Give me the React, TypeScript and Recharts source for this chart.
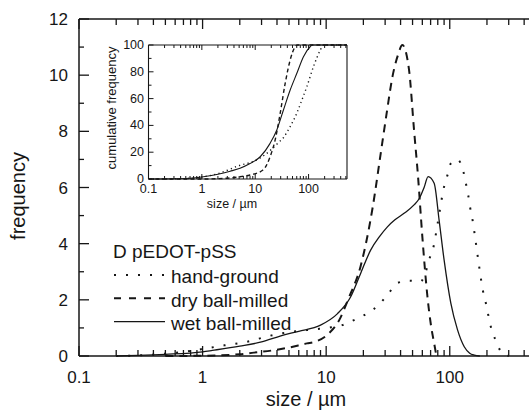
import { LineChart, Line, XAxis, YAxis } from 'recharts'

const FONT = '"Liberation Sans", Arial, Helvetica, sans-serif'
const INK = '#161616'

// particle size (µm) vs frequency
const handGround = [
  { x: 0.2, y: 0 }, { x: 0.4, y: 0.05 }, { x: 0.7, y: 0.15 }, { x: 1, y: 0.25 },
  { x: 1.5, y: 0.38 }, { x: 2.3, y: 0.51 }, { x: 3.5, y: 0.72 }, { x: 5, y: 0.85 },
  { x: 8, y: 0.95 }, { x: 11, y: 1.02 }, { x: 13.5, y: 1.1 }, { x: 16.8, y: 1.28 },
  { x: 21.5, y: 1.52 }, { x: 26.3, y: 1.8 }, { x: 31.6, y: 2.2 }, { x: 37.8, y: 2.6 },
  { x: 47, y: 2.68 }, { x: 58, y: 2.65 }, { x: 64, y: 3.0 }, { x: 68, y: 3.42 },
  { x: 74, y: 3.9 }, { x: 80, y: 4.75 }, { x: 90, y: 6.03 }, { x: 96, y: 6.45 },
  { x: 102, y: 6.86 }, { x: 115, y: 7.0 }, { x: 129, y: 6.56 }, { x: 135, y: 6.15 },
  { x: 141, y: 5.73 }, { x: 146, y: 5.3 }, { x: 153, y: 4.84 }, { x: 163, y: 4.0 },
  { x: 173, y: 3.18 }, { x: 185, y: 2.35 }, { x: 196, y: 1.88 }, { x: 215, y: 1.04 },
  { x: 233, y: 0.6 }, { x: 256, y: 0.2 }, { x: 280, y: 0.03 }, { x: 300, y: 0 },
]
const dryMilled = [
  { x: 0.5, y: 0 }, { x: 1, y: 0.01 }, { x: 2, y: 0.06 }, { x: 2.6, y: 0.12 },
  { x: 3.7, y: 0.2 }, { x: 5, y: 0.3 }, { x: 7, y: 0.45 }, { x: 8, y: 0.5 },
  { x: 10.5, y: 0.8 }, { x: 13, y: 1.35 }, { x: 15, y: 2.0 }, { x: 19, y: 3.2 },
  { x: 23.8, y: 5.3 }, { x: 27.6, y: 7.2 }, { x: 31, y: 8.7 }, { x: 34.4, y: 9.95 },
  { x: 38, y: 10.7 }, { x: 41.4, y: 11.07 }, { x: 46.8, y: 10.2 }, { x: 51.4, y: 8.05 },
  { x: 55.4, y: 6.38 }, { x: 60, y: 4.25 }, { x: 66, y: 2.11 }, { x: 71, y: 1.0 },
  { x: 74.8, y: 0.45 }, { x: 78, y: 0 },
]
const wetMilled = [
  { x: 0.2, y: 0 }, { x: 0.3, y: 0.02 }, { x: 0.5, y: 0.06 }, { x: 1, y: 0.15 },
  { x: 1.2, y: 0.2 }, { x: 2, y: 0.35 }, { x: 3, y: 0.5 }, { x: 4.3, y: 0.72 },
  { x: 6, y: 0.88 }, { x: 9, y: 1.1 }, { x: 12.3, y: 1.5 }, { x: 15.8, y: 2.11 },
  { x: 19, y: 2.94 }, { x: 22.9, y: 3.77 }, { x: 27, y: 4.25 }, { x: 31.3, y: 4.6 },
  { x: 36, y: 4.85 }, { x: 42.7, y: 5.08 }, { x: 51.4, y: 5.38 }, { x: 56.5, y: 5.6 },
  { x: 62, y: 6.0 }, { x: 66.8, y: 6.39 }, { x: 74.8, y: 6.15 }, { x: 82, y: 4.84 },
  { x: 90, y: 3.42 }, { x: 102, y: 1.88 }, { x: 115.6, y: 0.93 }, { x: 131, y: 0.33 },
  { x: 145, y: 0.1 }, { x: 158, y: 0.03 }, { x: 175, y: 0 },
]

// inset: cumulative frequency (%)
const handCum = [
  { x: 0.1, y: 0 }, { x: 0.5, y: 0.3 }, { x: 1, y: 1.5 }, { x: 2, y: 4 }, { x: 5, y: 10 },
  { x: 9, y: 13 }, { x: 14, y: 17 }, { x: 20, y: 22 }, { x: 27, y: 27 }, { x: 34, y: 31 },
  { x: 45, y: 39 }, { x: 60, y: 49 }, { x: 75, y: 59 }, { x: 93, y: 69 }, { x: 124, y: 84 },
  { x: 165, y: 96 }, { x: 190, y: 100 }, { x: 525, y: 100 },
]
const dryCum = [
  { x: 0.1, y: 0 }, { x: 1, y: 0 }, { x: 3, y: 0.6 }, { x: 5.2, y: 1.7 }, { x: 8, y: 3 },
  { x: 14, y: 6.7 }, { x: 19, y: 16.6 }, { x: 23.6, y: 29 }, { x: 29.3, y: 48.7 },
  { x: 36.3, y: 71 }, { x: 45.2, y: 88.8 }, { x: 56, y: 98.7 }, { x: 62, y: 100 }, { x: 525, y: 100 },
]
const wetCum = [
  { x: 0.1, y: 0 }, { x: 0.5, y: 0.4 }, { x: 1.07, y: 1.7 }, { x: 2, y: 3.5 }, { x: 3.4, y: 5.8 },
  { x: 5.2, y: 8 }, { x: 8, y: 11.5 }, { x: 12.4, y: 16.6 }, { x: 19, y: 26.6 },
  { x: 25.4, y: 36.6 }, { x: 33.8, y: 51.5 }, { x: 45.2, y: 66.4 }, { x: 60.3, y: 78.9 },
  { x: 80.2, y: 91.3 }, { x: 107, y: 98.7 }, { x: 118, y: 100 }, { x: 525, y: 100 },
]

const decades = [0.1, 1, 10, 100]
const freqTicks = [0, 1, 2, 3, 4, 5, 6, 7, 8, 9, 10, 11, 12]
const cumTicks = [0, 10, 20, 30, 40, 50, 60, 70, 80, 90, 100]

const series = [
  { name: 'hand-ground', main: handGround, cum: handCum, dash: '2 10', cumDash: '1.2 3.2', width: 2 },
  { name: 'dry ball-milled', main: dryMilled, cum: dryCum, dash: '8 6', cumDash: '4 3', width: 2 },
  { name: 'wet ball-milled', main: wetMilled, cum: wetCum, dash: undefined, cumDash: undefined, width: 1.3 },
]

const logTicks = (max: number) =>
  decades.flatMap((d) => [1, 2, 3, 4, 5, 6, 7, 8, 9].map((k) => d * k)).filter((v) => v <= max)

const isDecade = (v: number) => Math.abs(Math.log10(v) - Math.round(Math.log10(v))) < 1e-6

function xTick(dir: 1 | -1, major: number, minor: number, fontSize: number, offset: number, labels: boolean, sw: number) {
  return (props: any) => {
    const { x, y, payload } = props
    const v = payload.value
    const big = isDecade(v)
    return (
      <g>
        <line x1={x} x2={x} y1={y} y2={y - dir * (big ? major : minor)} stroke={INK} strokeWidth={sw} />
        {labels && big && (
          <text x={x} y={y + offset} textAnchor="middle" fontSize={fontSize} fill={INK} fontFamily={FONT}>
            {String(v)}
          </text>
        )}
      </g>
    )
  }
}

function yTick(dir: 1 | -1, step: number, major: number, minor: number, fontSize: number, gap: number, dy: number, labels: boolean, sw: number) {
  return (props: any) => {
    const { x, y, payload } = props
    const v = payload.value
    const big = v % step === 0
    return (
      <g>
        <line x1={x} x2={x + dir * (big ? major : minor)} y1={y} y2={y} stroke={INK} strokeWidth={sw} />
        {labels && big && (
          <text x={x - gap} y={y + dy} textAnchor="end" fontSize={fontSize} fill={INK} fontFamily={FONT}>
            {v}
          </text>
        )}
      </g>
    )
  }
}

const MAIN_MAX = 446
const INSET_MAX = 525

export default function App() {
  const mainX = logTicks(MAIN_MAX)
  const insetX = logTicks(INSET_MAX)
  const frame = { stroke: INK, strokeWidth: 1.5 }
  const insetFrame = { stroke: INK, strokeWidth: 1.1 }

  return (
    <div style={{ position: 'absolute', left: 0, top: 0, width: 529, height: 412, overflow: 'hidden', background: '#fff', fontFamily: FONT }}>
      <div style={{ position: 'absolute', left: 0, top: 0 }}>
        <LineChart width={532} height={412} margin={{ top: 18, right: 1, bottom: 55, left: 78 }}>
          <XAxis dataKey="x" type="number" scale="log" domain={[0.1, MAIN_MAX]} allowDataOverflow
            ticks={mainX} interval={0} height={1} tickSize={0} tickMargin={0} axisLine={frame}
            tick={xTick(1, 10, 6, 17, 27, true, 1.3)} />
          <XAxis xAxisId="top" orientation="top" dataKey="x" type="number" scale="log" domain={[0.1, MAIN_MAX]} allowDataOverflow
            ticks={mainX} interval={0} height={1} tickSize={0} tickMargin={0} axisLine={frame}
            tick={xTick(-1, 10, 6, 17, 0, false, 1.3)} />
          <YAxis type="number" domain={[0, 12]} ticks={freqTicks} interval={0} width={1} tickSize={0} tickMargin={0}
            axisLine={frame} tick={yTick(1, 2, 10, 5, 17, 11, 6, true, 1.3)} />
          <YAxis yAxisId="right" orientation="right" type="number" domain={[0, 12]} ticks={freqTicks} interval={0}
            width={1} tickSize={0} tickMargin={0} axisLine={frame} tick={yTick(-1, 2, 10, 5, 17, 0, 0, false, 1.3)} />
          {series.map((s) => (
            <Line key={s.name} data={s.main} dataKey="y" type="monotone" stroke={INK} strokeWidth={s.width}
              strokeDasharray={s.dash} dot={false} activeDot={false} isAnimationActive={false} />
          ))}
        </LineChart>
      </div>

      <div style={{ position: 'absolute', left: 0, top: 0, pointerEvents: 'none' }}>
        <LineChart width={360} height={215} margin={{ top: 44, right: 12, bottom: 35, left: 147.5 }}>
          <XAxis dataKey="x" type="number" scale="log" domain={[0.1, INSET_MAX]} allowDataOverflow
            ticks={insetX} interval={0} height={1} tickSize={0} tickMargin={0} axisLine={insetFrame}
            tick={xTick(1, 5, 3, 12.5, 14, true, 1)} />
          <XAxis xAxisId="top" orientation="top" dataKey="x" type="number" scale="log" domain={[0.1, INSET_MAX]} allowDataOverflow
            ticks={insetX} interval={0} height={1} tickSize={0} tickMargin={0} axisLine={insetFrame}
            tick={xTick(-1, 5, 3, 12.5, 0, false, 1)} />
          <YAxis type="number" domain={[0, 100]} ticks={cumTicks} interval={0} width={1} tickSize={0} tickMargin={0}
            axisLine={insetFrame} tick={yTick(1, 20, 5, 3, 12.5, 4.5, 4, true, 1)} />
          <YAxis yAxisId="right" orientation="right" type="number" domain={[0, 100]} ticks={cumTicks} interval={0}
            width={1} tickSize={0} tickMargin={0} axisLine={insetFrame} tick={yTick(-1, 20, 5, 3, 12.5, 0, 0, false, 1)} />
          {series.map((s) => (
            <Line key={s.name} data={s.cum} dataKey="y" type="monotone" stroke={INK} strokeWidth={s.dash ? 1.4 : 1.1}
              strokeDasharray={s.cumDash} dot={false} activeDot={false} isAnimationActive={false} />
          ))}
        </LineChart>
      </div>

      <svg width={529} height={412} style={{ position: 'absolute', left: 0, top: 0, pointerEvents: 'none' }} fontFamily={FONT} fill={INK}>
        <text x={25} y={196} fontSize={20} textAnchor="middle" transform="rotate(-90 25 196)">frequency</text>
        <text x={306} y={406} fontSize={20} textAnchor="middle">size / µm</text>
        <text x={115.5} y={108} fontSize={13} textAnchor="middle" transform="rotate(-90 115.5 108)">cumulative frequency</text>
        <text x={232} y={208} fontSize={12.5} textAnchor="middle">size / µm</text>

        <text x={113} y={258} fontSize={19}>D pEDOT-pSS</text>
        {series.map((s, i) => (
          <g key={s.name}>
            <line x1={114} x2={165} y1={275 + i * 23.3} y2={275 + i * 23.3} stroke={INK}
              strokeWidth={s.width} strokeDasharray={s.dash === '8 6' ? '7 8' : s.dash} />
            <text x={171} y={283 + i * 23.5} fontSize={19}>{s.name}</text>
          </g>
        ))}
      </svg>
    </div>
  )
}
